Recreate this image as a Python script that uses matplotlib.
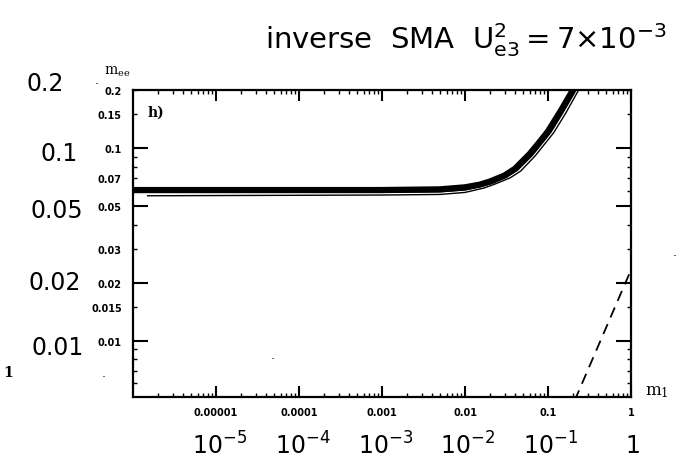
import matplotlib
matplotlib.use("Agg")
import matplotlib.pyplot as plt

# m1 values and m_ee curves (three lines forming the band)
m1_a = [1e-6, 1e-3, 5e-3, 1e-2, 1.5e-2, 2e-2, 3e-2, 4e-2, 6e-2, 8e-2, 0.1, 0.14, 0.2]
mee_a = [0.0605, 0.0605, 0.061, 0.0625, 0.0645, 0.067, 0.072, 0.078, 0.093, 0.108,
         0.122, 0.154, 0.2]
m1_b = [1e-6, 1e-3, 5e-3, 1e-2, 1.6e-2, 2.2e-2, 3.2e-2, 4.3e-2, 6.5e-2, 8.6e-2, 0.108,
        0.151, 0.216]
mee_b = [0.059, 0.059, 0.0594, 0.0607, 0.0635, 0.066, 0.071, 0.077, 0.092, 0.107,
         0.121, 0.153, 0.2]
m1_c = [1.5e-6, 1e-3, 5e-3, 1e-2, 1.7e-2, 2.3e-2, 3.5e-2, 4.7e-2, 7e-2, 9.3e-2, 0.117,
        0.164, 0.234]
mee_c = [0.0565, 0.057, 0.0574, 0.0588, 0.062, 0.065, 0.070, 0.076, 0.091, 0.106,
         0.12, 0.152, 0.2]

# dashed line at the lower right
m1_dash = [0.21, 1.0]
mee_dash = [0.0049, 0.0233]

xticks = [1e-5, 1e-4, 1e-3, 1e-2, 1e-1, 1]
xticklabels = ["0.00001", "0.0001", "0.001", "0.01", "0.1", "1"]
yticks_major = [0.01, 0.02, 0.05, 0.1]
yticks_minor = [0.006, 0.007, 0.008, 0.009, 0.015, 0.03, 0.04, 0.06, 0.07,
                0.08, 0.09, 0.15, 0.2]
yminor_labels = {0.015: "0.015", 0.03: "0.03", 0.07: "0.07", 0.15: "0.15", 0.2: "0.2"}

# handwritten annotations
hand_y = ["0.2", "0.1", "0.05", "0.02", "0.01"]
hand_y_pos = [(64, 84), (78, 154), (83, 211), (81, 283), (84, 348)]
hand_x = [r"$10^{-5}$", r"$10^{-4}$", r"$10^{-3}$", r"$10^{-2}$", r"$10^{-1}$", "1"]
hand_x_pos = [220, 303, 386, 468, 551, 633]

W, H = 682, 460


def px(x, y):
    return x / W, 1 - y / H


fig = plt.figure(figsize=(6.82, 4.6), dpi=100)
ax = fig.add_axes([133 / W, 1 - 398 / H, (631 - 133) / W, (398 - 91) / H])

ax.plot(m1_c, mee_c, color="black", lw=1.0)
ax.plot(m1_b, mee_b, color="black", lw=1.3)
ax.plot(m1_a, mee_a, color="black", lw=4.5, solid_capstyle="butt")
ax.plot(m1_dash, mee_dash, color="black", lw=1.3, linestyle=(0, (6, 4)))

ax.set_xscale("log")
ax.set_yscale("log")
ax.set_xlim(1e-6, 1)
ax.set_ylim(0.0051, 0.2)

for s in ax.spines.values():
    s.set_linewidth(1.6)

tick_font = dict(fontsize=7, fontweight="bold", family="DejaVu Sans")

ax.set_xticks(xticks)
ax.set_xticklabels(xticklabels, **tick_font)
ax.xaxis.set_minor_locator(matplotlib.ticker.LogLocator(base=10, subs=range(2, 10), numticks=20))
ax.xaxis.set_minor_formatter(matplotlib.ticker.NullFormatter())

ax.set_yticks(yticks_major)
ax.set_yticklabels([str(v) for v in yticks_major], **tick_font)
ax.set_yticks(yticks_minor, minor=True)
ax.set_yticklabels([yminor_labels.get(v, "") for v in yticks_minor], minor=True, **tick_font)

ax.tick_params(which="major", axis="x", direction="in", length=8, width=1.5, pad=7,
               top=True, bottom=True)
ax.tick_params(which="major", axis="y", direction="in", length=11, width=1.5, pad=8,
               left=True, right=True)
ax.tick_params(which="minor", direction="in", length=3, width=1.0,
               top=True, right=True, pad=8)

# printed labels from the original plot
ax.text(0.03, 0.93, "h)", transform=ax.transAxes, fontsize=10, fontweight="bold",
        family="DejaVu Serif", va="center")
fig.text(*px(117, 72), r"$\mathregular{m_{ee}}$", fontsize=10, family="DejaVu Serif",
         ha="center", va="center")
fig.text(*px(657, 392), r"$\mathregular{m_1}$", fontsize=12, family="DejaVu Serif",
         ha="center", va="center")
fig.text(*px(8, 373), "1", fontsize=10, fontweight="bold", family="DejaVu Serif",
         ha="center", va="center")

# handwritten notes
fig.text(*px(466, 40), r"inverse  SMA  $\mathrm{U}_{\mathrm{e3}}^{2} = 7{\times}10^{-3}$",
         fontsize=21, ha="center", va="center")
for lab, (x, y) in zip(hand_y, hand_y_pos):
    fig.text(*px(x, y), lab, fontsize=17, ha="right", va="center")
for lab, x in zip(hand_x, hand_x_pos):
    fig.text(*px(x, 446), lab, fontsize=17, ha="center", va="center")

# specks on the scan
for x, y in [(104, 374), (675, 253), (273, 356), (97, 80)]:
    fig.text(*px(x, y), ".", fontsize=9, ha="center", va="center")

fig.savefig("out.png", dpi=100)
